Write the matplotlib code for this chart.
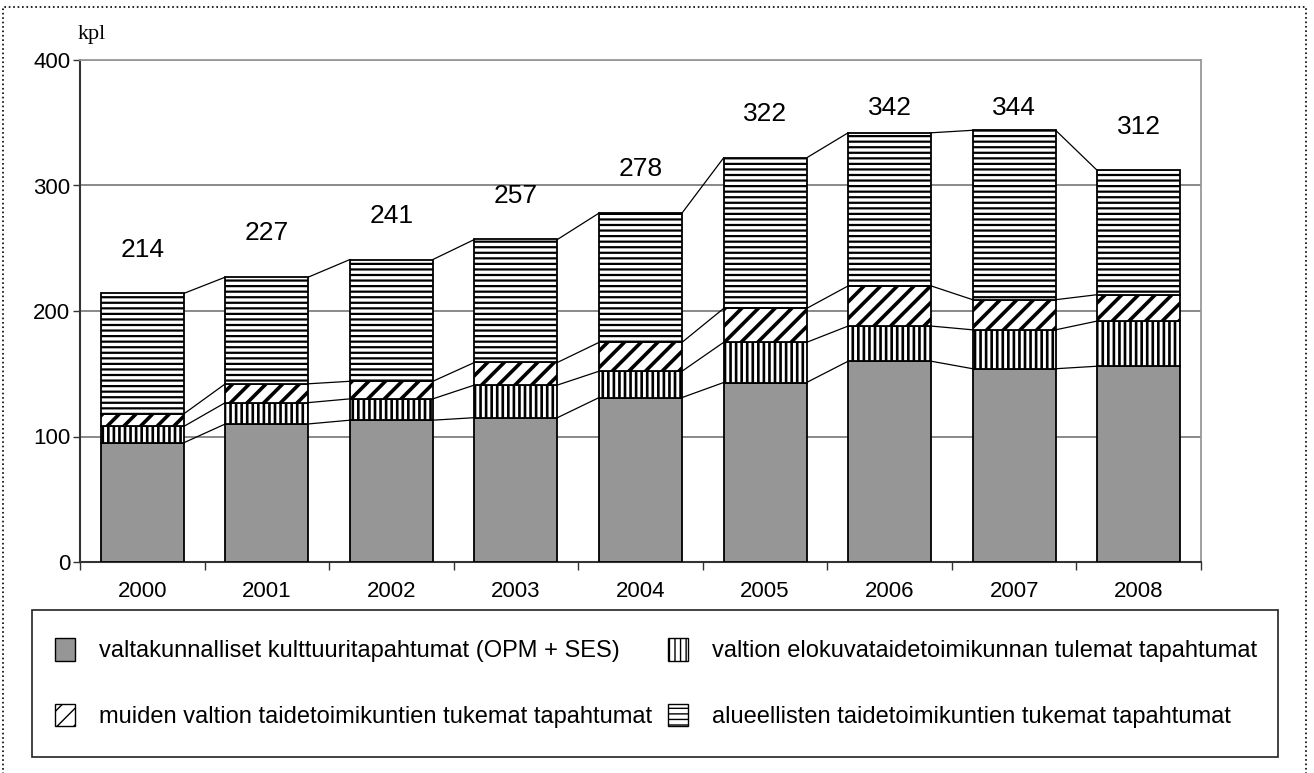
import numpy as np
import matplotlib.pyplot as plt
import matplotlib as mpl
from matplotlib.patches import Patch, Rectangle

# Data (events, kpl)
years = ["2000", "2001", "2002", "2003", "2004", "2005", "2006", "2007", "2008"]
national = [95, 110, 113, 115, 131, 143, 160, 154, 156]
film = [13, 17, 17, 26, 21, 32, 28, 31, 36]
other_state = [10, 15, 14, 18, 23, 27, 32, 24, 21]
regional = [96, 85, 97, 98, 103, 120, 122, 135, 99]
totals = [214, 227, 241, 257, 278, 322, 342, 344, 312]

labels = [
    "valtakunnalliset kulttuuritapahtumat (OPM + SES)",
    "valtion elokuvataidetoimikunnan tulemat tapahtumat",
    "muiden valtion taidetoimikuntien tukemat tapahtumat",
    "alueellisten taidetoimikuntien tukemat tapahtumat",
]

plt.rcParams["font.family"] = ["Liberation Sans", "DejaVu Sans"]
plt.rcParams["hatch.color"] = "black"

fig = plt.figure(figsize=(13.14, 7.73), dpi=100)
ax = fig.add_axes([80 / 1314, 1 - 562 / 773, 1121 / 1314, 502 / 773])

x = np.arange(len(years))
width = 0.666
series = [national, film, other_state, regional]
# (facecolor, hatch, hatch linewidth)
styles = [
    ("#969696", None, 1.0),
    ("white", "|||", 1.9),
    ("white", "//", 2.6),
    ("white", "---", 1.6),
]

bottom = np.zeros(len(years))
levels = []
for vals, (fc, hatch, hlw) in zip(series, styles):
    vals = np.array(vals, dtype=float)
    with mpl.rc_context({"hatch.linewidth": hlw}):
        bars = ax.bar(x, vals, width, bottom=bottom, color=fc, edgecolor="black",
                      hatch=hatch, linewidth=1.3, zorder=3)
    for b in bars:
        if hasattr(b, "set_hatch_linewidth"):
            b.set_hatch_linewidth(hlw)
    bottom = bottom + vals
    levels.append(bottom.copy())

# series lines joining the stacked segments
for lev in levels:
    for i in range(len(years) - 1):
        ax.plot([x[i] + width / 2, x[i + 1] - width / 2], [lev[i], lev[i + 1]],
                color="black", linewidth=0.9, zorder=2)

# totals above bars
for xi, t in zip(x, totals):
    ax.text(xi, min(t + 35, 362), str(t), ha="center", va="center", fontsize=19)

ax.set_xlim(-0.5, len(years) - 0.5)
ax.set_ylim(0, 400)
ax.set_yticks([0, 100, 200, 300, 400])
ax.yaxis.grid(True, color="#808080", linewidth=1.3, zorder=0)
ax.set_axisbelow(True)
ax.set_xticks(x)
ax.set_xticklabels(years)
ax.set_xticks(np.arange(-0.5, len(years), 1.0), minor=True)
ax.tick_params(axis="x", which="major", length=0, pad=14, labelsize=16)
ax.tick_params(axis="x", which="minor", length=6, width=1, color="#333333")
ax.tick_params(axis="y", length=5, width=1, color="#333333", labelsize=16, pad=2)

for side in ["left", "bottom"]:
    ax.spines[side].set_color("#333333")
    ax.spines[side].set_linewidth(1.5)
for side in ["top", "right"]:
    ax.spines[side].set_color("#999999")
    ax.spines[side].set_linewidth(1.3)

fig.text(78 / 1314, 1 - 35 / 773, "kpl", family="Liberation Serif", fontsize=16,
         va="center", ha="left")

# legend box
fig.patches.append(Rectangle((32 / 1314, 1 - 757 / 773), 1246 / 1314, 147 / 773,
                             transform=fig.transFigure, fill=False,
                             edgecolor="#222222", linewidth=1.2))
handles = []
for (fc, hatch, hlw) in styles:
    handles.append(Patch(facecolor=fc, edgecolor="black", hatch=hatch, linewidth=1.0))
order = [0, 2, 1, 3]
fig.legend([handles[i] for i in order], [labels[i] for i in order], ncol=2,
           loc="center left", bbox_to_anchor=(55 / 1314, 1 - 683 / 773),
           frameon=False, fontsize=17, borderpad=0, borderaxespad=0,
           handlelength=0.85, handleheight=1.1, handletextpad=1.0, labelspacing=1.75,
           columnspacing=0.7)

# dotted outer border
fig.patches.append(Rectangle((3 / 1314, -0.01), 1303 / 1314, 1 - 7 / 773 + 0.01,
                             transform=fig.transFigure, fill=False,
                             edgecolor="black", linewidth=1.2, linestyle=":"))

fig.savefig("out.png", dpi=100)
